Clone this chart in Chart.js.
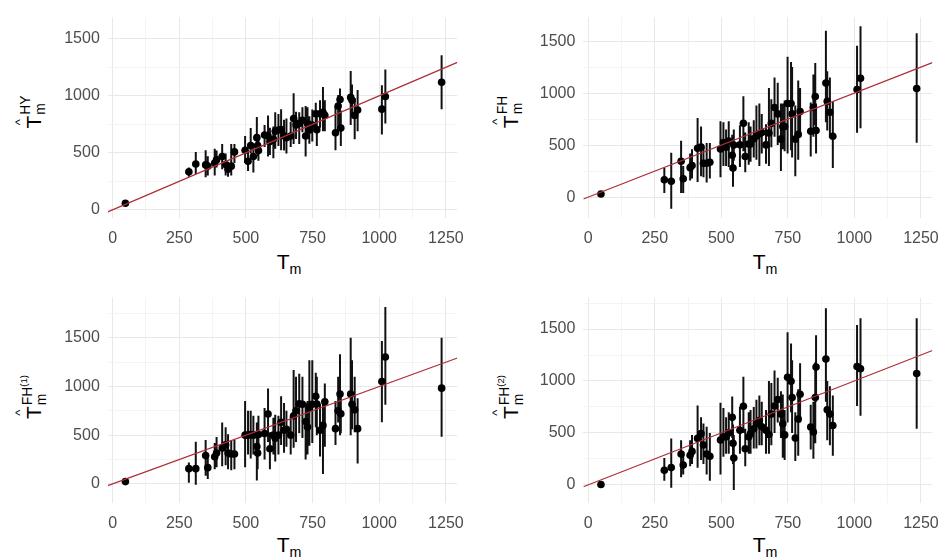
<!DOCTYPE html>
<html>
<head>
<meta charset="utf-8">
<script src="https://cdn.jsdelivr.net/npm/chart.js@4.4.1/dist/chart.umd.min.js"></script>
<style>
  body { margin: 0; background: #fff; }
  #wrap { position: relative; width: 950px; height: 560px; background: #fff; font-family: "Liberation Sans", Arial, sans-serif; }
  canvas { position: absolute; }
  .xtitle { position: absolute; transform: translateX(-50%); font-size: 21px; color: #000; white-space: nowrap; }
  .xtitle sub { font-size: 0.68em; vertical-align: -0.35em; }
  .ytitle { position: absolute; transform: translate(-50%, -50%) rotate(-90deg); font-size: 21px; color: #000;
            white-space: nowrap; display: flex; align-items: center; line-height: 1; }
  .hat { position: relative; display: inline-block; }
  .hat::before { content: "^"; position: absolute; left: 50%; transform: translateX(-50%); top: -0.72em; font-size: 0.62em; }
  .ss { display: inline-flex; flex-direction: column; justify-content: space-between; height: 2.05em;
        font-size: 0.66em; line-height: 1; margin-left: 1px; }
  .ss sup { font-size: 0.7em; vertical-align: 0.5em; }
</style>
</head>
<body>
<div id="wrap">
  <canvas id="p1" width="420" height="250" style="left:55px;top:0px"></canvas>
  <canvas id="p2" width="419" height="250" style="left:531px;top:0px"></canvas>
  <canvas id="p3" width="420" height="250" style="left:55px;top:280px"></canvas>
  <canvas id="p4" width="419" height="250" style="left:531px;top:280px"></canvas>

  <div class="ytitle" style="left:33px;top:112px"><span class="hat">T</span><span class="ss"><span>HY</span><span>m</span></span></div>
  <div class="ytitle" style="left:510px;top:112px"><span class="hat">T</span><span class="ss"><span>FH</span><span>m</span></span></div>
  <div class="ytitle" style="left:33px;top:397px"><span class="hat">T</span><span class="ss"><span>FH<sup>(1)</sup></span><span>m</span></span></div>
  <div class="ytitle" style="left:510px;top:397px"><span class="hat">T</span><span class="ss"><span>FH<sup>(2)</sup></span><span>m</span></span></div>

  <div class="xtitle" style="left:289px;top:250px">T<sub>m</sub></div>
  <div class="xtitle" style="left:765px;top:250px">T<sub>m</sub></div>
  <div class="xtitle" style="left:289px;top:533px">T<sub>m</sub></div>
  <div class="xtitle" style="left:765px;top:533px">T<sub>m</sub></div>
</div>
<script>
// True values (shared x for all four panels)
const xTrue = [48, 286, 312, 349, 357, 383, 390, 411, 424, 433, 445, 457, 497, 508, 518, 528, 541, 544, 547, 570,
               583, 590, 603, 610, 622, 632, 643, 652, 668, 679, 688, 700, 712, 724, 731, 738, 749, 762, 766, 778,
               789, 796, 836, 846, 853, 856, 893, 898, 908, 919, 1010, 1023, 1234];

// HY estimates
const yHY  = [58, 333, 402, 394, 383, 411, 439, 467, 397, 355, 383, 508, 522, 425, 564, 467, 633, 564, 520, 656,
              647, 600, 619, 689, 700, 703, 650, 633, 647, 800, 744, 758, 786, 647, 758, 700, 744, 842, 703, 842,
              855, 828, 675, 911, 967, 717, 986, 960, 828, 875, 883, 994, 1119];
const loHY = [42, 290, 313, 286, 300, 300, 370, 355, 300, 290, 300, 411, 411, 341, 494, 328, 550, 470, 430, 550,
              467, 480, 453, 536, 560, 522, 520, 494, 550, 578, 620, 578, 680, 467, 620, 580, 600, 717, 560, 720,
              689, 690, 522, 689, 744, 560, 744, 820, 619, 689, 661, 758, 883];
const hiHY = [76, 370, 508, 522, 470, 536, 520, 578, 494, 420, 578, 578, 647, 508, 717, 578, 814, 660, 620, 744,
              828, 720, 731, 856, 840, 883, 790, 800, 772, 1022, 860, 856, 900, 911, 900, 820, 880, 939, 850, 960,
              1078, 960, 911, 1008, 1064, 870, 1217, 1100, 981, 1050, 1092, 1231, 1356];

// FH estimates
const yFH  = [30, 167, 152, 344, 176, 283, 304, 470, 482, 326, 326, 335, 463, 524, 480, 539, 402, 280, 500, 503,
              709, 390, 511, 511, 560, 587, 608, 620, 502, 617, 709, 861, 800, 557, 678, 678, 900, 900, 800, 557,
              603, 822, 633, 861, 968, 640, 1096, 922, 816, 585, 1035, 1142, 1044];
const loFH = [15, 39, -113, 39, 40, 160, 180, 146, 200, 190, 140, 180, 190, 300, 300, 290, 250, 100, 350, 290,
              440, 240, 310, 340, 380, 360, 300, 420, 320, 300, 480, 580, 500, 250, 460, 440, 420, 450, 380, 200,
              359, 600, 390, 580, 690, 420, 720, 640, 570, 280, 618, 663, 523];
const hiFH = [45, 283, 426, 542, 300, 420, 460, 761, 680, 480, 520, 520, 730, 720, 650, 730, 600, 470, 650, 690,
              970, 620, 720, 680, 740, 880, 900, 800, 700, 1050, 940, 1150, 1100, 900, 900, 930, 1350, 1300, 1250, 880,
              1120, 1050, 910, 1180, 1290, 900, 1600, 1210, 1150, 920, 1455, 1643, 1576];

// FH(1) estimates
const yFH1  = [23, 156, 156, 290, 166, 277, 317, 367, 400, 317, 307, 307, 500, 500, 507, 500, 383, 317, 507, 517,
               717, 360, 500, 467, 500, 633, 550, 560, 500, 700, 750, 823, 817, 640, 583, 783, 817, 900, 820, 550,
               600, 843, 567, 750, 923, 720, 923, 817, 760, 567, 1050, 1303, 983];
const loFH1 = [10, 10, -10, 83, 50, 150, 170, 180, 190, 150, 140, 150, 170, 300, 260, 300, 33, 150, 340, 250,
               430, 150, 300, 230, 300, 400, 320, 380, 300, 370, 430, 520, 470, 250, 300, 390, 420, 580, 500, 280,
               100, 380, 400, 630, 500, 520, 500, 560, 530, 210, 633, 813, 483];
const hiFH1 = [35, 220, 433, 450, 266, 420, 480, 630, 580, 510, 450, 450, 850, 750, 750, 700, 630, 480, 700, 780,
               980, 530, 680, 710, 700, 900, 830, 750, 700, 1170, 1100, 1130, 1100, 830, 850, 1270, 1270, 1140, 1100, 820,
               830, 1030, 850, 1100, 1330, 900, 1500, 1270, 1100, 880, 1467, 1816, 1500];

// FH(2) estimates
const yFH2  = [3, 141, 166, 297, 190, 284, 322, 447, 493, 384, 297, 275, 431, 462, 462, 500, 650, 400, 259, 525,
               756, 347, 462, 493, 540, 587, 619, 560, 525, 484, 681, 759, 822, 681, 587, 481, 1035, 997, 840, 450,
               634, 872, 556, 509, 840, 1134, 1212, 722, 681, 572, 1140, 1118, 1072];
const loFH2 = [-5, 40, -28, 72, 100, 180, 200, 165, 240, 200, 100, 40, 100, 270, 300, 300, 450, 200, -50, 300,
               500, 180, 300, 300, 350, 350, 380, 380, 300, 300, 380, 500, 600, 450, 260, 240, 600, 700, 500, 230,
               280, 600, 340, 250, 400, 800, 800, 430, 380, 280, 759, 665, 540];
const hiFH2 = [12, 259, 447, 430, 300, 430, 480, 765, 650, 590, 560, 500, 790, 740, 650, 700, 850, 580, 480, 750,
               1040, 540, 700, 720, 750, 820, 860, 800, 720, 1000, 980, 1100, 1030, 900, 870, 720, 1470, 1360, 1200, 700,
               920, 1170, 770, 800, 1180, 1440, 1700, 1000, 950, 860, 1540, 1603, 1603];

// tick positions (grid every 125 / 250, labels every 250 / 500)
const xTickValues = [0, 125, 250, 375, 500, 625, 750, 875, 1000, 1125, 1250];
const yTickValues = [-250, 0, 250, 500, 750, 1000, 1250, 1500, 1750];
const xRange = [-18, 1293];

function errorBarData(lo, hi) {
    const pts = [];
    xTrue.forEach((x, i) => {
        pts.push({x: x, y: lo[i]});
        pts.push({x: x, y: hi[i]});
        pts.push({x: x, y: null});
    });
    return pts;
}

function makePanel(id, ys, lo, hi, yMin, yMax, yAxisW, xAxisH, padTop, padRight) {
    const ctx = document.getElementById(id).getContext('2d');
    return new Chart(ctx, {
        type: 'scatter',
        data: {
            datasets: [
                {
                    // identity line
                    data: [{x: xRange[0], y: xRange[0]}, {x: xRange[1], y: xRange[1]}],
                    showLine: true,
                    borderColor: '#ad2f37',
                    borderWidth: 1.2,
                    pointRadius: 0,
                },
                {
                    data: ys.map((y, i) => ({x: xTrue[i], y: y})),
                    backgroundColor: '#000',
                    borderColor: '#000',
                    pointRadius: 3.8,
                    borderWidth: 0,
                },
                {
                    data: errorBarData(lo, hi),
                    showLine: true,
                    spanGaps: false,
                    borderColor: '#111',
                    borderWidth: 2,
                    pointRadius: 0,
                },
            ],
        },
        options: {
            responsive: false,
            animation: false,
            events: [],
            layout: { padding: { top: padTop, right: padRight, left: 0, bottom: 0 } },
            plugins: { legend: { display: false }, tooltip: { enabled: false } },
            scales: {
                x: {
                    type: 'linear',
                    min: xRange[0],
                    max: xRange[1],
                    afterBuildTicks: (scale) => {
                        scale.ticks = xTickValues.map(v => ({value: v}));
                    },
                    afterFit: (scale) => { scale.height = xAxisH; },
                    border: { display: false },
                    grid: {
                        drawTicks: false,
                        color: (c) => (c.tick && c.tick.value % 250 === 0) ? '#e8e8e8' : '#f1f1f1',
                        lineWidth: (c) => (c.tick && c.tick.value % 250 === 0) ? 1 : 0.8,
                    },
                    ticks: {
                        padding: 11,
                        color: '#4d4d4d',
                        font: { family: 'Liberation Sans', size: 16 },
                        callback: (v) => (v % 250 === 0 ? String(v) : ''),
                        maxRotation: 0,
                        autoSkip: false,
                    },
                },
                y: {
                    type: 'linear',
                    min: yMin,
                    max: yMax,
                    afterBuildTicks: (scale) => {
                        scale.ticks = yTickValues.filter(v => v >= yMin && v <= yMax).map(v => ({value: v}));
                    },
                    afterFit: (scale) => { scale.width = yAxisW; },
                    border: { display: false },
                    grid: {
                        drawTicks: false,
                        color: (c) => (c.tick && c.tick.value % 500 === 0) ? '#e8e8e8' : '#f1f1f1',
                        lineWidth: (c) => (c.tick && c.tick.value % 500 === 0) ? 1 : 0.8,
                    },
                    ticks: {
                        padding: 8,
                        color: '#4d4d4d',
                        font: { family: 'Liberation Sans', size: 16 },
                        callback: (v) => (v % 500 === 0 ? String(v) : ''),
                        autoSkip: false,
                    },
                },
            },
        },
    });
}

makePanel('p1', yHY, loHY, hiHY, -72, 1686, 52.8, 32, 7, 10);
makePanel('p2', yFH, loFH, hiFH, -201, 1726, 52.4, 32, 7, 8);
makePanel('p3', yFH1, loFH1, hiFH1, -197, 1913, 52.8, 27, 12, 10);
makePanel('p4', yFH2, loFH2, hiFH2, -175, 1803, 52.4, 27, 12, 8);
</script>
</body>
</html>
